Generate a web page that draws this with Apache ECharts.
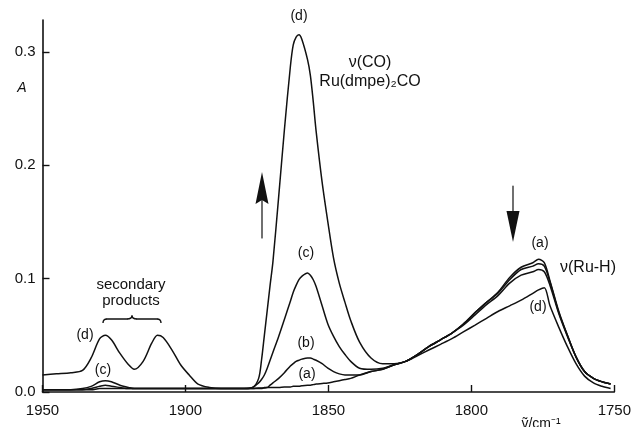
<!DOCTYPE html>
<html>
<head>
<meta charset="utf-8">
<title>IR spectra: ν(CO) growth and ν(Ru-H) decay</title>
<script src="https://cdn.jsdelivr.net/npm/echarts@6/dist/echarts.min.js"></script>
<style>
  html, body { margin: 0; padding: 0; background: #fff; }
  #chart { width: 634px; height: 427px; }
</style>
</head>
<body>
<div id="chart"></div>
<script>
// Wavenumber grid (cm-1) shared by all four spectra
const wavenumbers = [
  1950, 1945.1, 1940.1, 1936.0, 1933.0, 1930.0, 1928.0, 1925.9, 1922.9, 1919.9,
  1917.9, 1914.8, 1911.8, 1909.8, 1907.8, 1904.7, 1901.7, 1898.7, 1895.6, 1891.6,
  1887.6, 1883.5, 1879.5, 1876.5, 1874.4, 1873.4, 1872.4, 1871.4, 1870.4, 1869.4,
  1867.4, 1865.4, 1863.3, 1862.3, 1861.3, 1860.3, 1859.3, 1857.3, 1856.3, 1855.3,
  1854.3, 1852.2, 1850.2, 1848.2, 1846.2, 1844.2, 1842.2, 1839.1, 1835.1, 1831.0,
  1827.0, 1823.0, 1818.9, 1814.9, 1810.8, 1806.8, 1802.8, 1798.7, 1794.7, 1790.7,
  1786.6, 1782.6, 1778.5, 1776.5, 1774.5, 1772.5, 1769.4, 1766.4, 1763.4, 1760.4,
  1757.3, 1754.3, 1751.3
];

// Absorbance of spectra (a)-(d)
const absA = [
  .002, .002, .002, .002, .002, .003, .003, .003, .003, .003,
  .003, .003, .003, .003, .003, .003, .003, .003, .003, .003,
  .003, .003, .003, .003, .0035, .0035, .0035, .004, .004, .004,
  .004, .0045, .0045, .005, .005, .005, .0055, .006, .006, .0065,
  .007, .0075, .008, .009, .010, .011, .012, .015, .018, .020,
  .024, .027, .033, .040, .046, .052, .060, .070, .079, .088,
  .101, .110, .114, .117, .114, .098, .071, .050, .031, .018,
  .012, .009, .007
];
const absB = [
  .002, .002, .002, .002, .003, .005, .006, .005, .004, .003,
  .003, .003, .003, .003, .003, .003, .003, .003, .003, .003,
  .003, .003, .003, .003, .003, .003, .004, .004, .006, .008,
  .012, .017, .023, .025, .027, .028, .029, .030, .030, .029,
  .028, .025, .021, .018, .016, .015, .015, .015, .018, .020,
  .024, .027, .033, .040, .046, .052, .060, .070, .079, .087,
  .099, .108, .111, .113, .111, .097, .070, .050, .031, .018,
  .012, .009, .007
];
const absC = [
  .002, .002, .002, .003, .005, .009, .010, .009, .006, .004,
  .003, .003, .003, .003, .003, .003, .003, .003, .003, .003,
  .003, .003, .003, .004, .008, .011, .015, .021, .028, .035,
  .049, .064, .080, .088, .094, .099, .102, .105, .103, .099,
  .093, .076, .060, .049, .040, .033, .027, .021, .020, .021,
  .024, .027, .033, .040, .046, .052, .059, .068, .077, .085,
  .096, .103, .106, .108, .106, .094, .069, .049, .031, .018,
  .012, .009, .007
];
const absD = [
  .015, .016, .017, .019, .030, .047, .050, .046, .034, .024,
  .020, .027, .043, .050, .048, .037, .024, .015, .007, .004,
  .003, .003, .003, .004, .012, .028, .050, .072, .094, .115,
  .172, .231, .287, .306, .313, .315, .311, .293, .279, .256,
  .230, .185, .150, .118, .096, .079, .063, .044, .030, .025,
  .025, .027, .032, .037, .042, .047, .053, .059, .065, .071,
  .076, .081, .087, .090, .092, .076, .057, .040, .025, .014,
  .008, .005, .003
];

const spectra = [
  { name: '(a)', values: absA },
  { name: '(b)', values: absB },
  { name: '(c)', values: absC },
  { name: '(d)', values: absD }
];

const FONT = "'Liberation Sans', Arial, Helvetica, sans-serif";
const INK = '#111';

function label(text, x, y, size, italic) {
  return {
    type: 'text', x: x, y: y, silent: true,
    style: {
      text: text, fill: INK,
      font: (italic ? 'italic ' : '') + (size || 14) + 'px ' + FONT,
      textAlign: 'center', textVerticalAlign: 'middle'
    }
  };
}
function seg(x1, y1, x2, y2, w) {
  return { type: 'line', silent: true, shape: { x1, y1, x2, y2 },
           style: { stroke: INK, lineWidth: w || 1.4, lineCap: 'round' } };
}
function curl(x1, y1, cpx1, cpy1, x2, y2) {
  return { type: 'bezierCurve', silent: true, shape: { x1, y1, cpx1, cpy1, x2, y2 },
           style: { stroke: INK, fill: null, lineWidth: 1.4 } };
}

const chart = echarts.init(document.getElementById('chart'), null, { renderer: 'canvas' });

chart.setOption({
  animation: false,
  backgroundColor: '#fff',
  grid: { left: 42.5, right: 19, top: 20, bottom: 35, containLabel: false },
  xAxis: {
    type: 'value', inverse: true, min: 1750, max: 1950, interval: 50,
    axisLine: { show: true, onZero: false, lineStyle: { color: INK, width: 1.6 } },
    axisTick: { show: true, inside: true, length: 7, lineStyle: { color: INK, width: 1.4 } },
    axisLabel: { color: INK, fontSize: 15, fontFamily: FONT, margin: 11, formatter: v => String(v) },
    splitLine: { show: false }
  },
  yAxis: {
    type: 'value', min: 0, max: 0.328, interval: 0.1,
    axisLine: { show: true, lineStyle: { color: INK, width: 1.6 } },
    axisTick: { show: true, inside: true, length: 7, lineStyle: { color: INK, width: 1.4 } },
    axisLabel: {
      color: INK, fontSize: 15, fontFamily: FONT, margin: 7, showMaxLabel: false,
      formatter: v => v.toFixed(1)
    },
    splitLine: { show: false }
  },
  series: spectra.map(s => ({
    name: s.name,
    type: 'line',
    data: wavenumbers.map((w, i) => [w, s.values[i]]),
    showSymbol: false,
    smooth: 0.3,
    lineStyle: { color: INK, width: 1.5 },
    z: 3
  })),
  graphic: [
    // axis titles
    label('A', 22, 88, 14, true),
    label('\u1E7D/cm\u207B\u00B9', 541, 424, 14),

    // ν(CO) band
    label('(d)', 299, 16, 14),
    label('\u03BD(CO)', 370, 63, 16),
    label('Ru(dmpe)\u2082CO', 370, 82, 16),
    label('(c)', 306, 253, 14),
    label('(b)', 306, 343, 14),
    label('(a)', 307, 374, 14),

    // rising-band arrow
    seg(262, 238, 262, 200, 1.2),
    { type: 'polygon', silent: true, shape: { points: [[262, 172], [255.5, 204], [262, 200], [268.5, 204]] },
      style: { fill: INK } },

    // ν(Ru-H) band, falling arrow
    seg(513, 186, 513, 214, 1.2),
    { type: 'polygon', silent: true, shape: { points: [[506.5, 211], [519.5, 211], [513, 242]] },
      style: { fill: INK } },
    label('(a)', 540, 243, 14),
    label('\u03BD(Ru-H)', 588, 268, 16),
    label('(d)', 538, 307, 14),

    // secondary products with brace
    label('secondary', 131, 285, 15),
    label('products', 131, 301, 15),
    curl(103, 323, 103, 319, 107, 319),
    seg(107, 319, 127, 319),
    curl(127, 319, 132, 319, 132, 315.5),
    curl(132, 315.5, 132, 319, 137, 319),
    seg(137, 319, 157, 319),
    curl(157, 319, 161, 319, 161, 323),
    label('(d)', 85, 335, 14),
    label('(c)', 103, 370, 14)
  ]
});
</script>
</body>
</html>
